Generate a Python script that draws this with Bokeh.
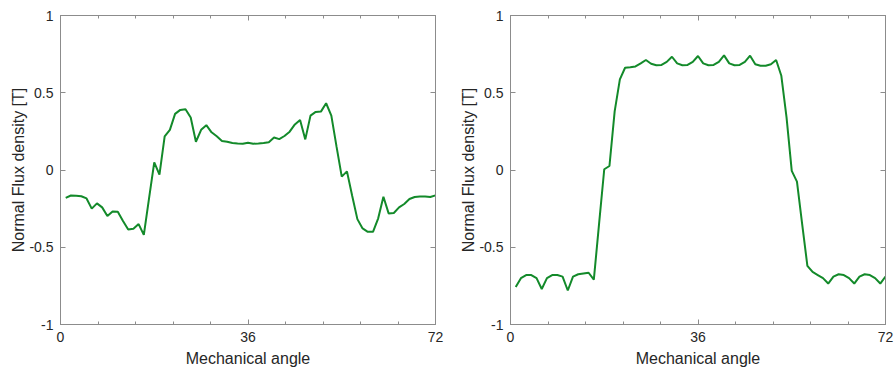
from bokeh.plotting import figure
from bokeh.models import FixedTicker, LinearAxis, Range1d, CustomJSTickFormatter
from bokeh.layouts import row
from bokeh.embed import file_html
from bokeh.resources import INLINE

angle = list(range(1, 73))

flux_left = [
    -0.180, -0.165, -0.166, -0.170, -0.184, -0.250, -0.216, -0.242, -0.298, -0.268,
    -0.270, -0.330, -0.385, -0.380, -0.350, -0.420, -0.184, 0.050, -0.030, 0.218,
    0.260, 0.363, 0.389, 0.393, 0.340, 0.183, 0.260, 0.290, 0.244, 0.218,
    0.188, 0.183, 0.175, 0.172, 0.170, 0.177, 0.170, 0.172, 0.175, 0.180,
    0.210, 0.200, 0.220, 0.248, 0.295, 0.324, 0.198, 0.352, 0.376, 0.378,
    0.432, 0.352, 0.151, -0.043, -0.009, -0.167, -0.318, -0.378, -0.400, -0.400,
    -0.313, -0.173, -0.281, -0.278, -0.242, -0.220, -0.188, -0.175, -0.171, -0.171,
    -0.175, -0.164,
]

flux_right = [
    -0.757, -0.700, -0.680, -0.680, -0.700, -0.770, -0.700, -0.680, -0.680, -0.690,
    -0.780, -0.690, -0.675, -0.670, -0.665, -0.710, -0.350, 0.005, 0.026, 0.380,
    0.587, 0.662, 0.665, 0.670, 0.690, 0.712, 0.688, 0.678, 0.680, 0.700,
    0.733, 0.690, 0.678, 0.680, 0.700, 0.738, 0.690, 0.678, 0.680, 0.700,
    0.742, 0.690, 0.678, 0.680, 0.700, 0.740, 0.685, 0.675, 0.675, 0.685,
    0.712, 0.610, 0.340, -0.006, -0.075, -0.350, -0.620, -0.660, -0.680, -0.700,
    -0.735, -0.690, -0.675, -0.680, -0.700, -0.735, -0.690, -0.675, -0.680, -0.700,
    -0.735, -0.690,
]

x_major = [0, 36, 72]
x_minor = [7.2, 14.4, 21.6, 28.8, 43.2, 50.4, 57.6, 64.8]
y_major = [-1, -0.5, 0, 0.5, 1]
y_labels = {-1: "-1", -0.5: "-0.5", 0: "0", 0.5: "0.5", 1: "1"}
x_title = "Mechanical angle"
y_title = "Normal Flux density [T]"

FONT = "Liberation Sans"
BOX = "#8c8c8c"
TXT = "#262626"
GREEN = "#138a2a"


def style_axis(ax, size="14px"):
    ax.axis_line_color = BOX
    ax.major_tick_line_color = BOX
    ax.minor_tick_line_color = BOX
    ax.major_tick_in = 5
    ax.major_tick_out = 0
    ax.minor_tick_in = 3
    ax.minor_tick_out = 0
    ax.major_label_text_font = FONT
    ax.major_label_text_font_size = size
    ax.major_label_text_color = TXT
    ax.axis_label_text_font = FONT
    ax.axis_label_text_font_size = "16px"
    ax.axis_label_text_font_style = "normal"
    ax.axis_label_text_color = TXT


def make(values, mb_left, mb_right):
    p = figure(frame_width=375, frame_height=309,
               x_range=Range1d(0, 72), y_range=Range1d(-1, 1),
               output_backend="svg", toolbar_location=None,
               min_border_left=mb_left, min_border_right=mb_right,
               min_border_top=15, min_border_bottom=48)
    p.xgrid.visible = False
    p.ygrid.visible = False
    p.outline_line_color = BOX
    p.background_fill_color = "white"
    p.border_fill_color = "white"

    p.xaxis.ticker = FixedTicker(ticks=x_major, minor_ticks=x_minor)
    p.yaxis.ticker = FixedTicker(ticks=y_major, minor_ticks=[])
    p.yaxis.major_label_overrides = y_labels
    p.xaxis.axis_label = x_title
    p.yaxis.axis_label = y_title
    style_axis(p.xaxis[0])
    style_axis(p.yaxis[0])
    p.xaxis.major_label_standoff = 7
    p.xaxis.axis_label_standoff = 5
    p.yaxis.major_label_standoff = 7
    p.yaxis.axis_label_standoff = -1

    blank = CustomJSTickFormatter(code="return ''")
    ra = LinearAxis(ticker=FixedTicker(ticks=y_major, minor_ticks=[]), formatter=blank)
    style_axis(ra, "10px")
    ra.major_label_standoff = 0
    p.add_layout(ra, "right")
    ta = LinearAxis(ticker=FixedTicker(ticks=x_major, minor_ticks=x_minor), formatter=blank)
    style_axis(ta, "10px")
    ta.major_label_standoff = 0
    p.add_layout(ta, "above")

    p.line(angle, values, line_color=GREEN, line_width=2)
    return p


p1 = make(flux_left, 60, 12)
p2 = make(flux_right, 63, 11)
layout = row(p1, p2)

open("out.html", "w").write(file_html(layout, INLINE))
